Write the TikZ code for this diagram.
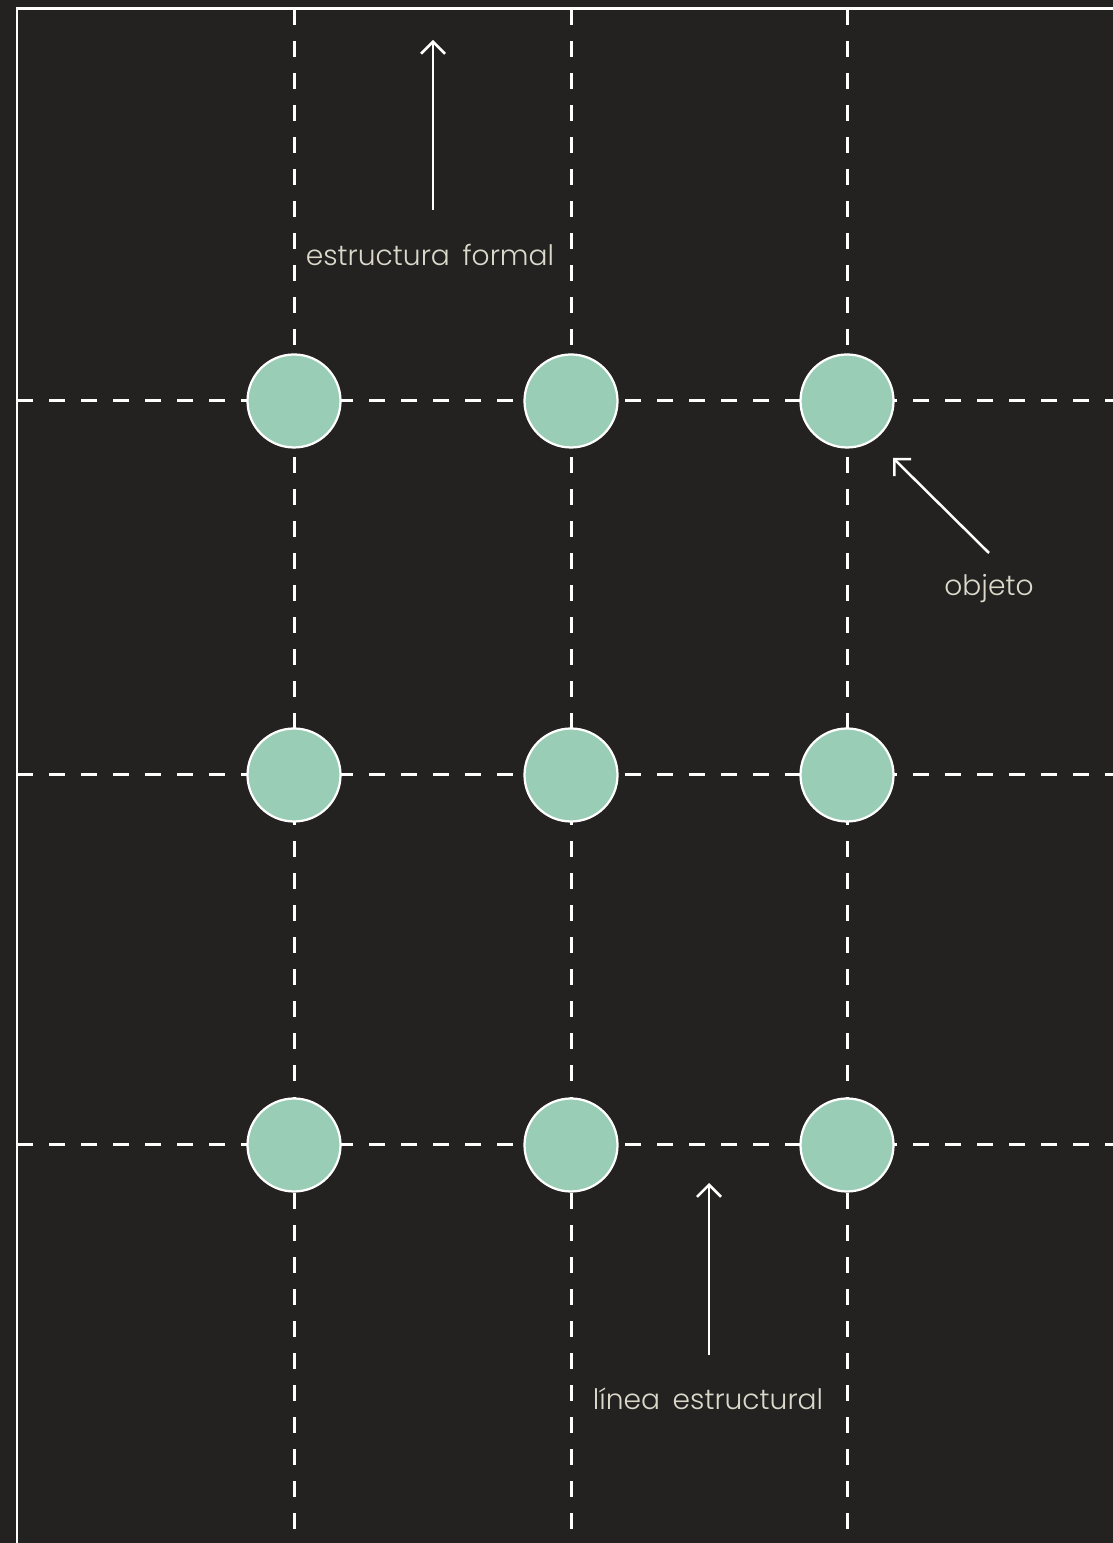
\documentclass[tikz,border=0pt]{standalone}
\usepackage{fontspec}
\setmainfont{Poppins}[UprightFont={* Light}]
\usepackage{tikz}
\usetikzlibrary{arrows.meta,positioning}
\definecolor{boardbg}{HTML}{232221}
\definecolor{mint}{HTML}{99CDB5}
\definecolor{chalk}{HTML}{DCD9CB}

\begin{document}
\begin{tikzpicture}[font=\fontsize{16}{19}\selectfont,
  grid/.style={draw=white,line width=0.06cm,dash pattern=on 0.32cm off 0.32cm},
  dot/.style={circle,draw=white,line width=0.045cm,fill=mint,minimum size=1.86cm,inner sep=0pt},
  tag/.style={text=chalk,inner sep=1pt,execute at begin node={\spaceskip=0.45em\relax}},
  pointer/.style={draw=white,line width=0.05cm,-{Straight Barb[length=0.24cm,width=0.48cm,line width=0.05cm]}}]
  \clip (0,0) rectangle (22.26,30.86);
  \fill[boardbg] (0,0) rectangle (22.26,30.86);
  \draw[white,line width=0.06cm] (0.34,-1) -- (0.34,30.68) -- (23,30.68);
  % structure lines
  \foreach \x in {5.88,11.42,16.94}
    \draw[grid] (\x,30.68) -- (\x,-1);
  \foreach \y in {22.84,15.36,7.96}
    \draw[grid] (0.34,\y) -- (23,\y);
  % objects
  \foreach \x/\i in {5.88/1,11.42/2,16.94/3}
    \foreach \y/\j in {22.84/1,15.36/2,7.96/3}
      \node[dot] (c\j\i) at (\x,\y) {};
  % labels
  \node[tag] (formal) at (8.6,25.76) {estructura formal};
  \node[tag] (objeto) at (19.78,19.08) {objeto};
  \node[tag] (linea) at (14.16,2.88) {línea estructural};
  \coordinate (formaltail) at (8.66,26.66);
  \coordinate (formaltip) at (8.66,30.06);
  \coordinate (objetotail) at (19.78,19.80);
  \coordinate (objetotip) at (17.86,21.70);
  \coordinate (lineatail) at (14.18,3.76);
  \coordinate (lineatip) at (14.18,7.20);
  \draw[pointer] (formaltail) -- (formaltip);
  \draw[pointer] (objetotail) -- (objetotip);
  \draw[pointer] (lineatail) -- (lineatip);
\end{tikzpicture}
\end{document}
